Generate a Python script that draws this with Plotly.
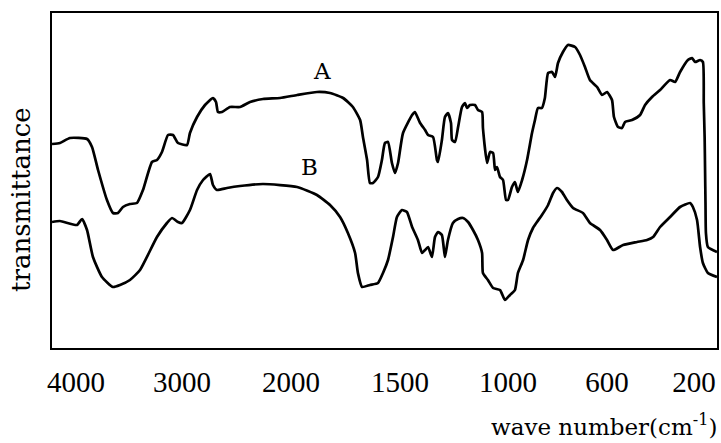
import numpy as np
import plotly.graph_objects as go

# Nonlinear IR chart-paper wavenumber scale: calibration of wavenumber -> horizontal axis position
CAL_WN = [4226, 4000, 3000, 2000, 1500, 1000, 600, 200, 94]
CAL_POS = [52, 76, 182, 291, 400, 508, 607, 694, 717]

tick_wn = [4000, 3000, 2000, 1500, 1000, 600, 200]
tick_labels = ["4000", "3000", "2000", "1500", "1000", "600", "200"]

# Spectrum A (wavenumber cm^-1, relative transmittance %)
wn_A = [4226, 4151, 4057, 3896, 3849, 3792, 3708, 3651, 3604, 3557,
        3491, 3425, 3368, 3283, 3236, 3189, 3132, 3085, 3038, 2954,
        2927, 2862, 2789, 2716, 2688, 2670, 2633, 2560, 2468, 2376,
        2257, 2101, 1972, 1881, 1821, 1761, 1716, 1683, 1670, 1651,
        1638, 1624, 1601, 1583, 1569, 1555, 1537, 1523, 1509, 1486,
        1444, 1431, 1407, 1384, 1370, 1347, 1329, 1324, 1306, 1292,
        1278, 1264, 1259, 1245, 1231, 1213, 1199, 1190, 1176, 1153,
        1139, 1120, 1116, 1097, 1083, 1069, 1060, 1051, 1037, 1023,
        1009, 1000, 984, 972, 960, 943, 923, 903, 891, 879,
        863, 851, 838, 822, 810, 798, 778, 758, 729, 709,
        689, 669, 640, 620, 600, 577, 568, 549, 531, 517,
        485, 448, 425, 393, 356, 310, 287, 264, 228, 209,
        195, 172, 159, 155, 151, 149, 147, 145, 136, 94]
T_A = [61.2, 61.5, 63.0, 62.7, 60.3, 53.4, 44.4, 40.5, 40.5, 42.3,
       43.2, 43.5, 47.4, 55.8, 56.4, 58.8, 63.9, 63.9, 61.5, 60.9,
       64.5, 69.3, 72.9, 75.0, 73.8, 70.8, 70.8, 72.3, 72.3, 73.8,
       74.7, 75.0, 75.9, 76.8, 76.5, 75.0, 72.3, 68.4, 63.3, 56.4,
       49.5, 49.5, 51.3, 56.4, 61.5, 61.8, 55.5, 52.5, 55.5, 64.5,
       69.9, 70.8, 67.5, 65.4, 63.9, 63.3, 56.4, 55.8, 62.4, 69.3,
       70.5, 67.5, 62.4, 61.8, 66.3, 72.3, 73.5, 72.0, 72.9, 72.9,
       71.4, 70.8, 66.0, 55.5, 58.8, 58.5, 53.4, 54.3, 51.3, 50.4,
       44.4, 44.4, 48.3, 49.8, 46.8, 50.4, 56.4, 64.5, 68.4, 72.0,
       72.0, 75.0, 82.5, 82.8, 81.3, 85.5, 88.8, 90.9, 90.3, 87.9,
       84.3, 80.4, 78.3, 75.9, 76.8, 74.4, 69.3, 66.3, 66.0, 67.8,
       68.4, 69.9, 72.9, 75.3, 77.4, 80.4, 79.8, 82.8, 86.4, 87.0,
       85.8, 86.4, 85.8, 73.5, 63.3, 53.4, 43.5, 34.5, 30.3, 28.8]

# Spectrum B
wn_B = [4226, 4151, 3991, 3943, 3896, 3840, 3755, 3651, 3585, 3491,
        3396, 3236, 3142, 3094, 3038, 3000, 2927, 2862, 2807, 2743,
        2716, 2679, 2587, 2468, 2257, 1972, 1881, 1821, 1775, 1739,
        1706, 1693, 1674, 1638, 1601, 1578, 1555, 1532, 1514, 1491,
        1468, 1444, 1417, 1398, 1384, 1370, 1352, 1338, 1324, 1306,
        1292, 1278, 1255, 1231, 1208, 1185, 1162, 1139, 1120, 1116,
        1093, 1069, 1037, 1014, 992, 972, 960, 939, 919, 899,
        883, 863, 838, 818, 802, 782, 762, 737, 697, 669,
        628, 600, 572, 526, 462, 416, 388, 356, 310, 264,
        218, 205, 186, 172, 159, 136, 94]
T_B = [37.8, 38.1, 36.9, 38.7, 35.4, 27.3, 21.3, 18.3, 18.9, 20.4,
       23.4, 33.3, 37.5, 39.0, 37.8, 37.5, 41.4, 47.4, 50.4, 52.2,
       48.9, 47.4, 48.0, 48.6, 49.2, 48.3, 45.9, 42.9, 39.3, 34.5,
       28.5, 22.5, 18.3, 18.9, 19.5, 22.5, 26.4, 33.3, 39.3, 41.4,
       40.8, 36.3, 32.4, 28.5, 29.4, 30.3, 27.3, 33.3, 34.8, 33.9,
       27.3, 32.4, 37.5, 38.7, 39.0, 37.8, 35.4, 32.4, 28.5, 22.5,
       20.4, 18.0, 17.4, 14.4, 15.9, 17.4, 22.5, 26.4, 32.4, 36.0,
       37.8, 39.9, 42.9, 46.5, 48.0, 46.8, 44.4, 42.0, 40.5, 37.5,
       35.4, 32.4, 29.4, 30.9, 31.8, 32.4, 33.3, 36.3, 39.3, 42.3,
       43.5, 42.3, 38.4, 30.3, 25.5, 22.5, 21.3]

series_names = ["A", "B"]
label_wn = [1858, 1917]
label_T = [83.1, 54.3]


def pos(wn):
    """Map wavenumber to position on the nonlinear chart-paper axis."""
    return np.interp(-np.asarray(wn, dtype=float),
                     -np.asarray(CAL_WN, dtype=float),
                     np.asarray(CAL_POS, dtype=float))


fig = go.Figure()
for name, wn, T in [("A", wn_A, T_A), ("B", wn_B, T_B)]:
    fig.add_trace(go.Scatter(
        x=pos(wn), y=T, mode="lines", name=name,
        line=dict(color="black", width=2.7, shape="spline", smoothing=0.5),
        showlegend=False, hoverinfo="skip"))

for name, lw, lt in zip(series_names, label_wn, label_T):
    fig.add_annotation(x=float(pos([lw])[0]), y=lt, text=name, showarrow=False,
                       font=dict(family="DejaVu Serif", size=23, color="black"),
                       xanchor="center", yanchor="middle")

fig.add_annotation(xref="paper", yref="paper", x=-0.0466, y=0.442,
                   text="transmittance", textangle=-90, showarrow=False,
                   font=dict(family="DejaVu Serif", size=26, color="black"),
                   xanchor="center", yanchor="middle")
fig.add_annotation(xref="paper", yref="paper", x=1.003, y=-0.23,
                   text="wave number(cm<sup>-1</sup>)", showarrow=False,
                   font=dict(family="DejaVu Serif", size=23, color="black"),
                   xanchor="right", yanchor="middle")

fig.update_xaxes(range=[CAL_POS[0], CAL_POS[-1]], tickmode="array",
                 tickvals=pos(tick_wn), ticktext=tick_labels, ticks="",
                 ticklabelstandoff=7, automargin=False,
                 tickfont=dict(family="Liberation Serif", size=29, color="black"),
                 showgrid=False, zeroline=False, showline=True, mirror=True,
                 linecolor="black", linewidth=2)
fig.update_yaxes(range=[0, 100.5], showticklabels=False, ticks="",
                 automargin=False,
                 showgrid=False, zeroline=False, showline=True, mirror=True,
                 linecolor="black", linewidth=2)

fig.update_layout(width=721, height=443,
                  margin=dict(l=52, r=4, t=13, b=95),
                  plot_bgcolor="white", paper_bgcolor="white")

fig.write_html("out.html", config={"displayModeBar": False},
               post_script="document.body.style.margin='0';document.body.style.padding='0';")
